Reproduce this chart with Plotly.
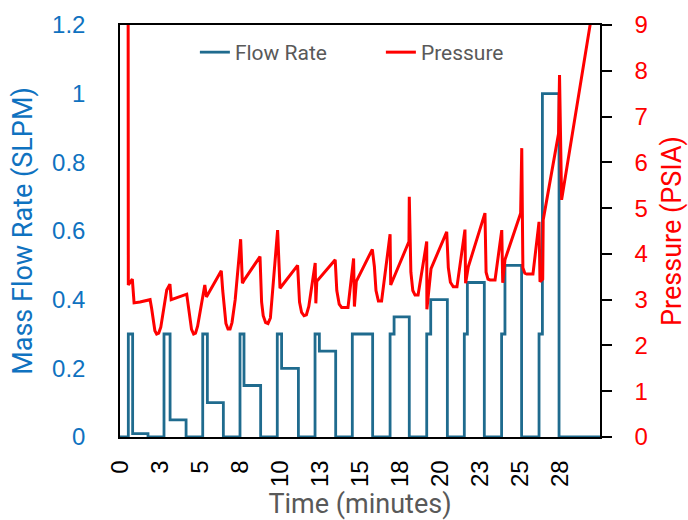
import plotly.graph_objects as go

# Mass flow set-points (step changes), time in minutes
flow_time = [0, 0.52, 0.79, 1.75, 2.75, 3.13, 4.13, 5.17, 5.46, 6.46, 7.50, 7.75, 8.79,
             9.83, 10.10, 11.15, 12.19, 12.46, 13.48, 14.52, 15.79, 16.88, 17.13, 18.08,
             19.17, 19.42, 20.46, 21.52, 21.71, 22.77, 23.85, 24.06, 25.10, 26.19, 26.40,
             27.44, 30]
flow_rate = [0, 0.30, 0.01, 0, 0.30, 0.05, 0, 0.30, 0.10, 0, 0.30, 0.15, 0,
             0.30, 0.20, 0, 0.30, 0.25, 0, 0.30, 0, 0.30, 0.35, 0,
             0.30, 0.40, 0, 0.30, 0.45, 0, 0.30, 0.50, 0, 0.30, 1.00,
             0, 0]

# Measured pressure, time in minutes
pressure_time = [0.50, 0.52, 0.77, 0.88, 1.25, 1.88,
                 1.98, 2.08, 2.18, 2.29, 2.42, 2.55, 2.72, 2.92, 3.12, 3.20,
                 4.17, 4.27, 4.37, 4.47, 4.60, 4.72, 4.85, 5.00, 5.20, 5.30, 5.40,
                 6.33, 6.42, 6.52, 6.62, 6.75, 6.88, 7.00, 7.20, 7.54, 7.65, 7.80,
                 8.75, 8.85, 8.95, 9.10, 9.25, 9.40, 9.55, 9.85, 10.00,
                 11.10, 11.22, 11.35, 11.50, 11.65, 11.80, 12.20, 12.24, 12.30,
                 13.45, 13.55, 13.70, 13.85, 14.25, 14.60, 14.65, 14.77,
                 15.77, 15.90, 16.00, 16.15, 16.35, 16.88, 16.92,
                 18.06, 18.08, 18.18, 18.30, 18.44, 18.63, 19.17, 19.18, 19.44,
                 20.42, 20.52, 20.65, 20.83, 21.06, 21.56, 21.60, 21.77,
                 22.81, 22.88, 23.00, 23.13, 23.44, 23.86, 23.92, 24.06,
                 25.04, 25.11, 25.18, 25.30, 25.42, 25.81, 26.19, 26.25, 26.42, 26.45,
                 27.41, 27.47, 27.60, 29.38, 29.60]
pressure = [14.0, 3.32, 3.45, 2.93, 2.95, 3.00,
            2.80, 2.50, 2.32, 2.25, 2.27, 2.40, 2.75, 3.21, 3.34, 3.00,
            3.12, 2.85, 2.55, 2.35, 2.25, 2.27, 2.42, 2.75, 3.20, 3.32, 3.06,
            3.63, 3.20, 2.75, 2.48, 2.36, 2.36, 2.50, 3.00, 4.32, 3.36, 3.45,
            3.94, 2.95, 2.65, 2.50, 2.48, 2.60, 3.20, 4.52, 3.25,
            3.75, 2.95, 2.72, 2.65, 2.67, 2.85, 3.80, 2.92, 3.40,
            3.87, 3.20, 2.90, 2.83, 2.83, 3.90, 2.85, 3.40,
            4.10, 3.72, 3.20, 2.97, 2.97, 4.43, 3.32,
            4.27, 5.25, 3.60, 3.20, 3.10, 3.10, 4.27, 2.79, 3.68,
            4.48, 3.70, 3.38, 3.28, 3.28, 4.53, 3.36, 3.72,
            4.89, 3.60, 3.45, 3.43, 3.43, 4.52, 3.37, 3.87,
            4.89, 6.31, 3.70, 3.58, 3.56, 3.56, 4.70, 3.39, 3.45, 4.74,
            6.63, 7.91, 5.18, 9.00, 9.30]

# Time-axis ticks (labels rounded to whole minutes)
time_ticks = [0, 2.5, 5, 7.5, 10, 12.5, 15, 17.5, 20, 22.5, 25, 27.5]
time_tick_labels = ["0", "3", "5", "8", "10", "13", "15", "18", "20", "23", "25", "28"]

FLOW_COLOR = "#1F6B8E"
LEFT_AXIS_COLOR = "#0F72C0"
PRESSURE_COLOR = "#FF0000"
TICK_FONT = "Liberation Sans, Arial, sans-serif"
TITLE_FONT = "Roboto, Liberation Sans, sans-serif"

fig = go.Figure()
fig.add_trace(go.Scatter(
    x=flow_time, y=flow_rate, name="Flow Rate", mode="lines",
    line=dict(color=FLOW_COLOR, width=2.8, shape="hv"),
    yaxis="y",
))
fig.add_trace(go.Scatter(
    x=pressure_time, y=pressure, name="Pressure", mode="lines",
    line=dict(color=PRESSURE_COLOR, width=3),
    yaxis="y2",
))

fig.update_layout(
    width=688, height=520,
    margin=dict(l=120, r=88, t=25, b=83),
    paper_bgcolor="white", plot_bgcolor="white",
    font=dict(family=TICK_FONT, size=22, color="black"),
    showlegend=True,
    legend=dict(
        orientation="h", x=0.156, xanchor="left", y=0.983, yanchor="top",
        bgcolor="rgba(0,0,0,0)",
        font=dict(family=TITLE_FONT, size=21, color="#595959"),
        entrywidth=141, entrywidthmode="pixels",
    ),
    xaxis=dict(
        range=[0, 30], tickmode="array", tickvals=time_ticks, ticktext=time_tick_labels,
        tickangle=-90, ticks="", showgrid=False, zeroline=False,
        showline=True, linecolor="black", linewidth=1.5, mirror=True,
        layer="below traces", automargin=False,
        tickfont=dict(family=TICK_FONT, size=24, color="black"),
        ticklabelstandoff=12,
        title=dict(text="Time (minutes)",
                   font=dict(family=TITLE_FONT, size=27, color="#595959"), standoff=11),
    ),
    yaxis=dict(
        range=[0, 1.2], dtick=0.2, tickformat="~g", ticks="", showgrid=False,
        zeroline=False, showline=True, linecolor="black", linewidth=1.5,
        layer="below traces", automargin=False,
        tickfont=dict(family=TICK_FONT, size=24, color=LEFT_AXIS_COLOR),
        ticklabelstandoff=28,
        title=dict(text="Mass Flow Rate (SLPM)",
                   font=dict(family=TITLE_FONT, size=27, color=LEFT_AXIS_COLOR), standoff=12),
    ),
    yaxis2=dict(
        range=[0, 9], dtick=1, overlaying="y", side="right", showgrid=False,
        zeroline=False, showline=True, linecolor="black", linewidth=1.5,
        ticks="outside", ticklen=10, tickwidth=1.5, tickcolor="black",
        layer="below traces", automargin=False,
        tickfont=dict(family=TICK_FONT, size=24, color=PRESSURE_COLOR),
        ticklabelstandoff=18,
        title=dict(text="Pressure (PSIA)",
                   font=dict(family=TITLE_FONT, size=27, color=PRESSURE_COLOR), standoff=18),
    ),
)

fig.write_html("out.html")
